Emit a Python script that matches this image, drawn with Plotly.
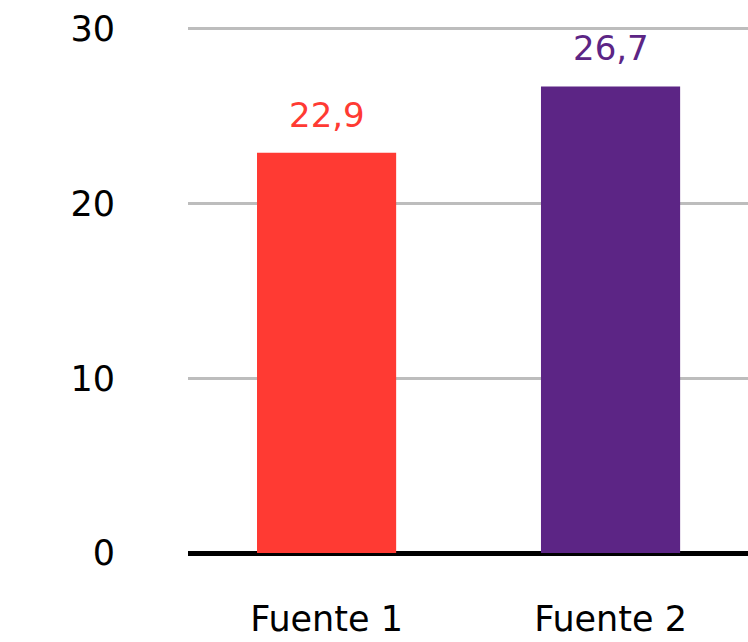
import plotly.graph_objects as go

# Chart data
categories = ["Fuente 1", "Fuente 2"]
values = [22.9, 26.7]
bar_colors = ["#ff3a33", "#5c2585"]
y_ticks = [0, 10, 20, 30]

FONT = "DejaVu Sans"

fig = go.Figure(
    go.Bar(
        x=categories,
        y=values,
        marker=dict(color=bar_colors, line=dict(width=0)),
        width=0.49,
        hoverinfo="skip",
    )
)

# value labels above each bar, decimal comma
for cat, val, col in zip(categories, values, bar_colors):
    fig.add_annotation(
        x=cat, y=val, yanchor="bottom", yshift=16,
        text=f"{val:.1f}".replace(".", ","),
        showarrow=False,
        font=dict(family=FONT, size=34, color=col),
    )

fig.update_layout(
    width=748, height=642,
    margin=dict(l=188, r=0, t=27, b=89, autoexpand=False),
    paper_bgcolor="white", plot_bgcolor="white",
    showlegend=False,
    separators=",.",
    font=dict(family=FONT, color="#000000"),
)

fig.update_xaxes(
    range=[-0.488, 1.484],
    showgrid=False, showline=False, zeroline=False,
    ticks="", ticklabelstandoff=42, automargin=False,
    tickfont=dict(family=FONT, size=35, color="#000000"),
)

fig.update_yaxes(
    range=[0, 30.1],
    tickvals=y_ticks,
    showgrid=True, gridcolor="#bdbdbd", gridwidth=2.5,
    zeroline=True, zerolinecolor="#000000", zerolinewidth=5,
    showline=False, ticks="", ticklabelstandoff=72, automargin=False,
    tickfont=dict(family=FONT, size=35, color="#000000"),
)

fig.write_html("out.html")
